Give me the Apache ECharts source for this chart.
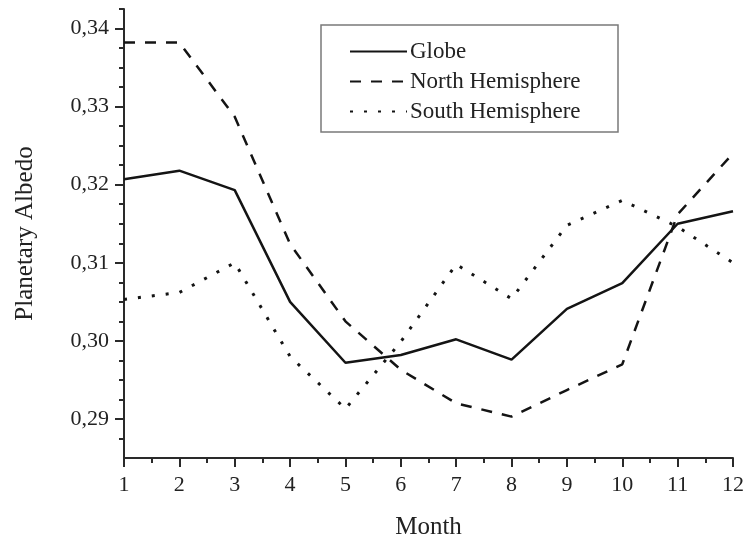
<!DOCTYPE html>
<html>
<head>
<meta charset="utf-8">
<script src="https://cdn.jsdelivr.net/npm/echarts@6/dist/echarts.min.js"></script>
<style>
  html, body { margin: 0; padding: 0; background: #fff; }
  #chart { width: 747px; height: 538px; }
</style>
</head>
<body>
<div id="chart"></div>
<script>
// Monthly planetary albedo, global and per hemisphere
const months = [1, 2, 3, 4, 5, 6, 7, 8, 9, 10, 11, 12];
const globe = [0.3207, 0.3218, 0.3193, 0.3050, 0.2972, 0.2982, 0.3002, 0.2976, 0.3041, 0.3074, 0.3150, 0.3166];
const north = [0.3382, 0.3382, 0.3287, 0.3124, 0.3025, 0.2963, 0.2920, 0.2903, 0.2937, 0.2970, 0.3162, 0.3240];
const south = [0.3053, 0.3062, 0.3100, 0.2980, 0.2913, 0.2999, 0.3098, 0.3054, 0.3148, 0.3180, 0.3146, 0.3100];

const yMajor = [0.29, 0.30, 0.31, 0.32, 0.33, 0.34];
const yMinor = [0.2875, 0.2925, 0.295, 0.2975, 0.3025, 0.305, 0.3075, 0.3125, 0.315, 0.3175,
                0.3225, 0.325, 0.3275, 0.3325, 0.335, 0.3375, 0.3425];

const serif = '"Liberation Serif", "DejaVu Serif", serif';
const ink = '#141414';
const axisInk = '#2a2a2a';

const pairs = vals => months.map((m, i) => [m, vals[i]]);

const chart = echarts.init(document.getElementById('chart'), null, { renderer: 'canvas' });

chart.setOption({
  animation: false,
  backgroundColor: '#fff',
  grid: { left: 124, right: 14, top: 9, bottom: 80, containLabel: false, outerBoundsMode: 'none' },
  xAxis: [{
    type: 'value', min: 1, max: 12, interval: 1,
    name: 'Month', nameLocation: 'middle', nameGap: 57,
    nameTextStyle: { fontFamily: serif, fontSize: 25, color: '#222' },
    axisLine: { show: true, lineStyle: { color: axisInk, width: 2 } },
    axisTick: { show: true, inside: false, length: 9, lineStyle: { color: axisInk, width: 2 } },
    minorTick: { show: true, splitNumber: 2, length: 5, lineStyle: { color: axisInk, width: 2 } },
    axisLabel: { fontFamily: serif, fontSize: 22, color: '#222', margin: 16 },
    splitLine: { show: false }
  }],
  yAxis: [{
    type: 'value', min: 0.285, max: 0.3425,
    name: 'Planetary Albedo', nameLocation: 'middle', nameGap: 86,
    nameTextStyle: { fontFamily: serif, fontSize: 25, color: '#222' },
    axisLine: { show: true, lineStyle: { color: axisInk, width: 2 } },
    axisTick: { show: true, length: 9, customValues: yMajor, lineStyle: { color: axisInk, width: 2 } },
    axisLabel: {
      fontFamily: serif, fontSize: 22, color: '#222', margin: 15,
      customValues: yMajor,
      formatter: v => v.toFixed(2).replace('.', ',')
    },
    splitLine: { show: false }
  }, {
    // short intermediate ticks on the same left edge
    type: 'value', min: 0.285, max: 0.3425, position: 'left', offset: 0,
    axisLine: { show: false },
    axisTick: { show: true, length: 5, customValues: yMinor, lineStyle: { color: axisInk, width: 2 } },
    axisLabel: { show: false },
    splitLine: { show: false }
  }],
  legend: {
    orient: 'vertical', left: 349, top: 40, padding: 0,
    itemWidth: 57, itemHeight: 16, itemGap: 7,
    itemStyle: { opacity: 0 },
    textStyle: { fontFamily: serif, fontSize: 23, color: '#222', padding: [0, 0, 0, -2] },
    data: ['Globe', 'North Hemisphere', 'South Hemisphere']
  },
  graphic: [{
    type: 'rect', z: -1,
    shape: { x: 321, y: 25, width: 297, height: 107 },
    style: { fill: '#fff', stroke: '#7a7a7a', lineWidth: 1.5 }
  }],
  series: [{
    name: 'Globe', type: 'line', symbol: 'none',
    data: pairs(globe),
    lineStyle: { color: ink, width: 2.5, type: 'solid' },
    itemStyle: { color: ink }
  }, {
    name: 'North Hemisphere', type: 'line', symbol: 'none',
    data: pairs(north),
    lineStyle: { color: ink, width: 2.5, type: [11, 10] },
    itemStyle: { color: ink }
  }, {
    name: 'South Hemisphere', type: 'line', symbol: 'none',
    data: pairs(south),
    lineStyle: { color: ink, width: 3, type: [3, 11] },
    itemStyle: { color: ink }
  }]
});
</script>
</body>
</html>
